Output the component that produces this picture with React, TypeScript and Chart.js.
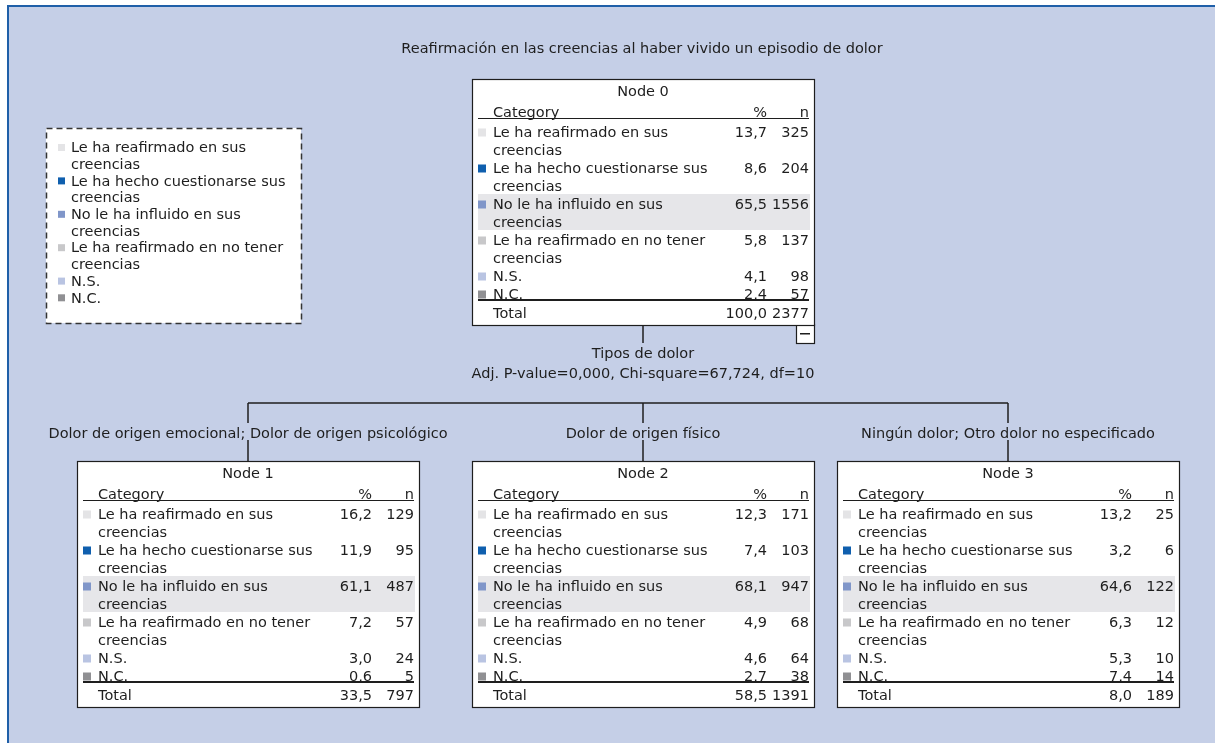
import React, { useEffect, useRef } from "react";
import { Chart, registerables } from "chart.js";
Chart.register(...registerables);

const chartTitle = "Reafirmación en las creencias al haber vivido un episodio de dolor";
const categories: string[][] = [
  ["Le ha reafirmado en sus", "creencias"],
  ["Le ha hecho cuestionarse sus", "creencias"],
  ["No le ha influido en sus", "creencias"],
  ["Le ha reafirmado en no tener", "creencias"],
  ["N.S."],
  ["N.C."],
];
const categoryColors = ["#e4e4e6", "#0f5fae", "#8096c9", "#c8c8ca", "#b9c4e2", "#909093"];

const nodeNames = ["Node 0", "Node 1", "Node 2", "Node 3"];
const node0Pct = [13.7, 8.6, 65.5, 5.8, 4.1, 2.4];
const node0N = [325, 204, 1556, 137, 98, 57];
const node1Pct = [16.2, 11.9, 61.1, 7.2, 3.0, 0.6];
const node1N = [129, 95, 487, 57, 24, 5];
const node2Pct = [12.3, 7.4, 68.1, 4.9, 4.6, 2.7];
const node2N = [171, 103, 947, 68, 64, 38];
const node3Pct = [13.2, 3.2, 64.6, 6.3, 5.3, 7.4];
const node3N = [25, 6, 122, 12, 10, 14];
const totalPct = [100.0, 33.5, 58.5, 8.0];
const totalN = [2377, 797, 1391, 189];

const splitVariable = "Tipos de dolor";
const splitStats = "Adj. P-value=0,000, Chi-square=67,724, df=10";
const branchLabels = [
  "Dolor de origen emocional; Dolor de origen psicológico",
  "Dolor de origen físico",
  "Ningún dolor; Otro dolor no especificado",
];

const W = 1215;
const H = 743;
const FONT = '14.5px "DejaVu Sans"';
const TEXT = "#1e1e1e";
const TY = 1.5; // text baseline adjustment

const fmt = (v: number) => v.toFixed(1).replace(".", ",");

const treePlugin = {
  id: "tree",
  afterDraw(chart: any) {
    const ctx: CanvasRenderingContext2D = chart.ctx;
    const xs = chart.scales.x;
    const ys = chart.scales.y;
    const X = (v: number) => xs.getPixelForValue(v);
    const Y = (v: number) => ys.getPixelForValue(v);
    const T = (t: string, x: number, y: number) => ctx.fillText(t, X(x), Y(y + TY));
    ctx.save();
    // page background
    ctx.fillStyle = "#ffffff";
    ctx.fillRect(X(0), Y(0), X(W) - X(0), Y(H) - Y(0));
    ctx.fillStyle = "#c5cfe7";
    ctx.fillRect(X(8), Y(5), X(W) - X(8), Y(H) - Y(5));
    ctx.fillStyle = "#1f5fa8";
    ctx.fillRect(X(7), Y(5), X(W) - X(7), 2);
    ctx.fillRect(X(7), Y(5), 2, Y(H) - Y(5));

    ctx.font = FONT;
    ctx.fillStyle = TEXT;
    ctx.textBaseline = "middle";
    ctx.textAlign = "center";
    T(chartTitle, 642, 48);

    // legend
    const lx = 46, ly = 128, lw = 255, lh = 195;
    ctx.fillStyle = "#ffffff";
    ctx.fillRect(X(lx), Y(ly), lw, lh);
    ctx.setLineDash([6, 4]);
    ctx.strokeStyle = "#333333";
    ctx.lineWidth = 1.5;
    ctx.strokeRect(X(lx) + 0.5, Y(ly) + 0.5, lw, lh);
    ctx.setLineDash([]);
    let ry = 147;
    ctx.textAlign = "left";
    categories.forEach((lines, i) => {
      ctx.fillStyle = categoryColors[i];
      ctx.fillRect(X(58), Y(ry) - 3, 7, 7);
      ctx.fillStyle = TEXT;
      lines.forEach((t) => {
        T(t, 71, ry);
        ry += 16.7;
      });
    });

    const pcts = [node0Pct, node1Pct, node2Pct, node3Pct];
    const ns = [node0N, node1N, node2N, node3N];
    const boxes = [
      [472, 79],
      [77, 461],
      [472, 461],
      [837, 461],
    ];
    const bw = 342, bh = 246;

    // connectors
    ctx.strokeStyle = "#1e1e1e";
    ctx.lineWidth = 1.5;
    const line = (x1: number, y1: number, x2: number, y2: number) => {
      ctx.beginPath();
      ctx.moveTo(X(x1), Y(y1));
      ctx.lineTo(X(x2), Y(y2));
      ctx.stroke();
    };
    const c0 = boxes[0][0] + bw / 2;
    line(c0, 325, c0, 343);
    const childCenters = boxes.slice(1).map((b) => b[0] + bw / 2);
    line(childCenters[0], 403, childCenters[2], 403);
    childCenters.forEach((cx) => {
      line(cx, 403, cx, 423);
      line(cx, 440, cx, 461);
    });
    ctx.fillStyle = TEXT;
    ctx.textAlign = "center";
    T(splitVariable, c0, 353);
    T(splitStats, c0, 373);
    branchLabels.forEach((t, i) => T(t, childCenters[i], 433));

    // minus box
    ctx.fillStyle = "#ffffff";
    ctx.fillRect(X(796), Y(324), 18, 19);
    ctx.lineWidth = 1.2;
    ctx.strokeRect(X(796) + 0.5, Y(324) + 0.5, 18, 19);
    ctx.fillStyle = TEXT;
    ctx.fillRect(X(800), Y(333), 10, 1.5);

    // nodes
    boxes.forEach(([bx, by], k) => {
      const pct = pcts[k];
      const n = ns[k];
      ctx.fillStyle = "#ffffff";
      ctx.fillRect(X(bx), Y(by), bw, bh);
      ctx.strokeStyle = "#1e1e1e";
      ctx.lineWidth = 1.2;
      ctx.strokeRect(X(bx) + 0.5, Y(by) + 0.5, bw, bh);
      ctx.fillStyle = TEXT;
      ctx.textAlign = "center";
      T(nodeNames[k], bx + bw / 2, by + 12);
      ctx.textAlign = "left";
      T("Category", bx + 21, by + 33);
      ctx.textAlign = "right";
      T("%", bx + 295, by + 33);
      T("n", bx + 337, by + 33);
      ctx.fillStyle = TEXT;
      ctx.fillRect(X(bx + 6), Y(by + 39), 331, 1);
      const maxI = pct.indexOf(Math.max(...pct));
      let y = by + 53;
      categories.forEach((lines, i) => {
        if (i === maxI) {
          ctx.fillStyle = "#e6e6e9";
          ctx.fillRect(X(bx + 6), Y(y - 10), 332, lines.length * 18);
        }
        ctx.fillStyle = categoryColors[i];
        ctx.fillRect(X(bx + 6), Y(y) - 3.5, 8, 8);
        ctx.fillStyle = TEXT;
        ctx.textAlign = "left";
        T(lines[0], bx + 21, y);
        if (lines[1]) T(lines[1], bx + 21, y + 18);
        ctx.textAlign = "right";
        T(fmt(pct[i]), bx + 295, y);
        T(String(n[i]), bx + 337, y);
        y += lines.length * 18;
      });
      ctx.fillStyle = TEXT;
      ctx.fillRect(X(bx + 6), Y(by + 220), 331, 2);
      ctx.textAlign = "left";
      T("Total", bx + 21, by + 234);
      ctx.textAlign = "right";
      T(fmt(totalPct[k]), bx + 295, by + 234);
      T(String(totalN[k]), bx + 337, by + 234);
    });
    ctx.restore();
  },
};

export default function App() {
  const ref = useRef<HTMLCanvasElement | null>(null);
  useEffect(() => {
    if (!ref.current) return;
    const chart = new Chart(ref.current, {
      type: "scatter",
      data: { datasets: [] },
      options: {
        responsive: false,
        animation: false,
        layout: { padding: 0 },
        plugins: { legend: { display: false }, tooltip: { enabled: false }, title: { display: false } },
        scales: {
          x: { type: "linear", min: 0, max: W, display: false },
          y: { type: "linear", min: 0, max: H, reverse: true, display: false },
        },
      },
      plugins: [treePlugin],
    });
    return () => chart.destroy();
  }, []);
  return (
    <div style={{ position: "absolute", left: 0, top: 0, width: W, height: H }}>
      <canvas ref={ref} width={W} height={H} style={{ display: "block" }} />
    </div>
  );
}
